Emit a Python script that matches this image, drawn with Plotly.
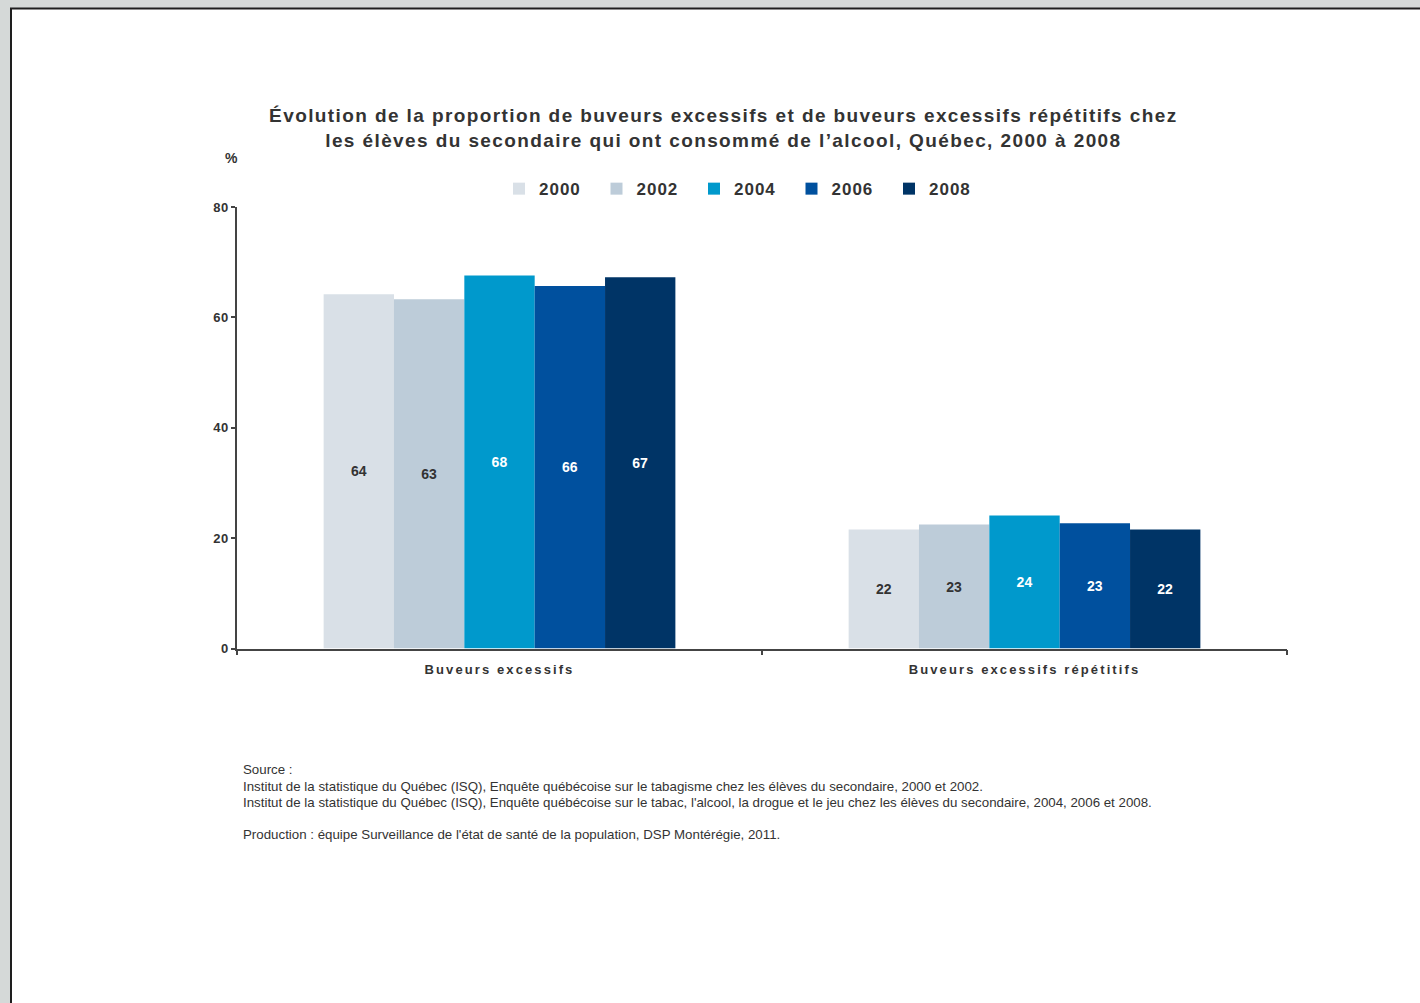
import plotly.graph_objects as go

# Data
categories = ["Buveurs excessifs", "Buveurs excessifs répétitifs"]
years = ["2000", "2002", "2004", "2006", "2008"]
values_by_year = {
    "2000": [64.2, 21.6],
    "2002": [63.3, 22.5],
    "2004": [67.6, 24.1],
    "2006": [65.7, 22.7],
    "2008": [67.3, 21.6],
}
bar_colors = ["#d9e0e7", "#bdccd9", "#0099cc", "#00509e", "#003466"]
label_colors = ["#333333", "#333333", "#ffffff", "#ffffff", "#ffffff"]

title_lines = [
    "Évolution de la proportion de buveurs excessifs et de buveurs excessifs répétitifs chez",
    "les élèves du secondaire qui ont consommé de l’alcool, Québec, 2000 à 2008",
]
source_lines = [
    "Source :",
    "Institut de la statistique du Québec (ISQ), Enquête québécoise sur le tabagisme chez les élèves du secondaire, 2000 et 2002.",
    "Institut de la statistique du Québec (ISQ), Enquête québécoise sur le tabac, l'alcool, la drogue et le jeu chez les élèves du secondaire, 2004, 2006 et 2008.",
    "",
    "Production : équipe Surveillance de l'état de santé de la population, DSP Montérégie, 2011.",
]

W, H = 1420, 1003
FONT = "Liberation Sans, Arial, sans-serif"
TXT = "#333333"

# vertical placement helper (page pixels -> paper fraction)
Y_SCALE, Y_OFF = 0.984, 7.1


def px(x):
    return x / W


def py(y):
    return 1 - ((y - Y_OFF) / Y_SCALE) / H


fig = go.Figure()
for yr, col, lcol in zip(years, bar_colors, label_colors):
    fig.add_trace(go.Bar(
        name=yr,
        x=categories,
        y=values_by_year[yr],
        marker=dict(color=col, line=dict(width=0)),
        texttemplate="%{y:.0f}",
        textposition="inside",
        insidetextanchor="middle",
        textangle=0,
        constraintext="none",
        textfont=dict(family=FONT, size=14, color=lcol, weight="bold"),
        hoverinfo="skip",
    ))

shapes = [
    # white page with dark left/top edges on a grey surround
    dict(type="rect", xref="paper", yref="paper", x0=px(11), x1=px(W + 5), y0=-0.05, y1=py(9),
         fillcolor="white", line=dict(width=0), layer="below"),
    dict(type="line", xref="paper", yref="paper", x0=px(11), x1=px(11), y0=-0.05, y1=py(8),
         line=dict(color="#1e1e1e", width=2), layer="below"),
    dict(type="line", xref="paper", yref="paper", x0=px(10), x1=px(W + 5), y0=py(8.5), y1=py(8.5),
         line=dict(color="#1e1e1e", width=2), layer="below"),
]

annotations = []
for i, line in enumerate(title_lines):
    annotations.append(dict(
        text=line, xref="paper", yref="paper", x=px(723), y=py(115 + 25 * i),
        xanchor="center", yanchor="middle", showarrow=False,
        font=dict(family=FONT, size=19, color=TXT, weight="bold"),
    ))
annotations.append(dict(
    text="%", xref="paper", yref="paper", x=px(231), y=py(158),
    xanchor="center", yanchor="middle", showarrow=False,
    font=dict(family=FONT, size=14, color=TXT, weight="bold"),
))
src_y = [769, 785.5, 802, 818, 834]
for line, yy in zip(source_lines, src_y):
    if not line:
        continue
    annotations.append(dict(
        text=line, xref="paper", yref="paper", x=px(241), y=py(yy),
        xanchor="left", yanchor="middle", showarrow=False,
        font=dict(family=FONT, size=13.3, color=TXT),
    ))

fig.update_layout(
    width=W, height=H,
    margin=dict(l=0, r=0, t=0, b=0),
    paper_bgcolor="#d5d9d8",
    plot_bgcolor="rgba(0,0,0,0)",
    barmode="group",
    bargap=0.33,
    bargroupgap=0,
    showlegend=True,
    legend=dict(
        orientation="h",
        x=px(499), y=py(189), xanchor="left", yanchor="middle",
        font=dict(family=FONT, size=17, color=TXT, weight="bold"),
        entrywidth=52.5, entrywidthmode="pixels",
        bgcolor="rgba(0,0,0,0)",
        itemclick=False, itemdoubleclick=False,
    ),
    xaxis=dict(
        domain=[px(237), px(1287)],
        showline=True, linecolor="#444444", linewidth=1.5,
        ticks="outside", ticklen=5, tickcolor="#444444", tickwidth=1.5,
        tickson="boundaries",
        ticklabelstandoff=8,
        tickfont=dict(family=FONT, size=13, color=TXT, weight="bold"),
        showgrid=False, zeroline=False,
    ),
    yaxis=dict(
        domain=[py(648), py(207)],
        range=[0, 80], dtick=20,
        showline=True, linecolor="#444444", linewidth=1.5,
        ticks="outside", ticklen=4, tickcolor="#444444", tickwidth=1.5,
        tickfont=dict(family=FONT, size=13, color=TXT, weight="bold"),
        showgrid=False, zeroline=False,
    ),
    shapes=shapes,
    annotations=annotations,
)

# letter spacing for the title, legend and axis labels
spacing_css = (
    '.annotation[data-index="0"] text, .annotation[data-index="1"] text { letter-spacing: 1.4px; }'
    ' .legendtext { letter-spacing: 1px; }'
    ' .xtick text { letter-spacing: 2.1px; }'
    ' .ytick text { letter-spacing: 0.5px; }'
)
post_js = (
    "var st = document.createElement('style');"
    "st.textContent = " + repr(spacing_css) + ";"
    "document.head.appendChild(st);"
)

fig.write_html("out.html", post_script=post_js)
